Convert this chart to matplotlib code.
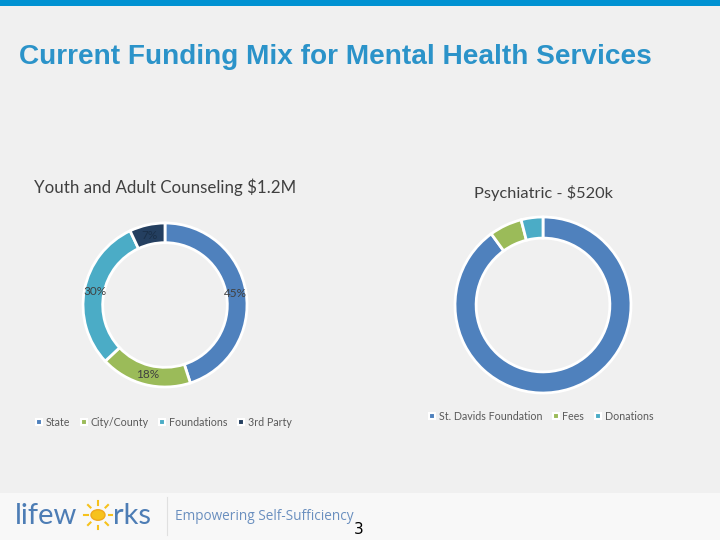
import matplotlib.pyplot as plt
from matplotlib.lines import Line2D
from matplotlib.patches import Rectangle, Circle

# data
left_title = "Youth and Adult Counseling $1.2M"
left_labels = ["State", "City/County", "Foundations", "3rd Party"]
left_values = [45, 18, 30, 7]
left_colors = ["#4f81bd", "#9bbb59", "#4bacc6", "#243f60"]

right_title = "Psychiatric - $520k"
right_labels = ["St. Davids Foundation", "Fees", "Donations"]
right_values = [90, 6, 4]
right_colors = ["#4f81bd", "#9bbb59", "#4bacc6"]

W, H = 720, 540
BG = "#f0f0f0"
TXT = "#404040"


def fx(px):
    return px / W


def fy(py):
    return 1 - py / H


fig = plt.figure(figsize=(7.2, 5.4), dpi=100)
fig.patch.set_facecolor(BG)

# top bar and footer band
fig.add_artist(Rectangle((0, fy(6)), 1, 6 / H, transform=fig.transFigure,
                         facecolor="#0092d2", edgecolor="none"))
fig.add_artist(Rectangle((0, 0), 1, fy(493), transform=fig.transFigure,
                         facecolor="#f8f8f8", edgecolor="none"))

fig.text(fx(19), fy(57), "Current Funding Mix for Mental Health Services",
         fontsize=20.2, fontweight="bold", color="#2b93c9",
         family="Liberation Sans", va="center", ha="left")


def donut(cx, cy, r, values, colors, width, pct=None):
    ax = fig.add_axes([fx(cx - r), fy(cy + r), 2 * r / W, 2 * r / H])
    ax.set_facecolor("none")
    kw = {}
    if pct:
        kw = dict(autopct="%d%%", pctdistance=pct,
                  textprops=dict(color=TXT, fontsize=8.5, family="Lato"))
    res = ax.pie(values, colors=colors, startangle=90, counterclock=False,
                 wedgeprops=dict(width=width, edgecolor="white", linewidth=2),
                 **kw)
    ax.set_xlim(-1, 1)
    ax.set_ylim(-1, 1)
    ax.set_aspect("auto")
    ax.axis("off")
    return res


res = donut(165, 305, 82, left_values, left_colors, 0.24, pct=0.87)
res[2][3].set_color("#1a2f48")
donut(543, 305, 88, right_values, right_colors, 0.24)

fig.text(fx(34), fy(187), left_title, fontsize=12.2, color=TXT,
         family="Lato", va="center", ha="left")
fig.text(fx(543), fy(193), right_title, fontsize=11.8, color=TXT,
         family="Lato", va="center", ha="center")


def legend(labels, colors, x, y):
    handles = [Line2D([], [], marker="s", linestyle="none", markersize=4.5,
                      markerfacecolor=c, markeredgecolor="white",
                      markeredgewidth=1.5) for c in colors]
    fig.legend(handles, labels, loc="center left", bbox_to_anchor=(fx(x), fy(y)),
               ncol=len(labels), frameon=False, handlelength=0.6,
               handletextpad=0.3, columnspacing=1.0, borderaxespad=0,
               borderpad=0, prop=dict(family="Lato", size=7.7),
               labelcolor="#595959")


legend(left_labels, left_colors, 36, 422)
legend(right_labels, right_colors, 429, 416)

# footer logo
logo = "#4d7db5"
fig.text(fx(15), fy(516), "lifew", fontsize=21, color=logo, family="Lato",
         va="center", ha="left")
fig.add_artist(Circle((fx(98), fy(515)), 7 / W, transform=fig.transFigure,
                      facecolor="#f6c21c", edgecolor="#f0a81a"))
for dx, dy in [(0, -14), (0, 14), (-14, 0), (14, 0), (-10, -10), (10, -10),
               (-10, 10), (10, 10)]:
    fig.add_artist(Line2D([fx(98 + dx * 0.75), fx(98 + dx)],
                          [fy(515 + dy * 0.75), fy(515 + dy)],
                          transform=fig.transFigure, color="#f6c21c", lw=1.5))
fig.text(fx(113), fy(516), "rks", fontsize=21, color=logo, family="Lato",
         va="center", ha="left")
fig.add_artist(Line2D([fx(167), fx(167)], [fy(497), fy(535)],
                      transform=fig.transFigure, color="#e0e0e0", lw=0.8))
fig.text(fx(175), fy(517), "Empowering Self-Sufficiency", fontsize=9.8,
         color="#6a8fbf", family="Open Sans", va="center", ha="left")
fig.text(fx(359), fy(529), "3", fontsize=11, color="black",
         family="DejaVu Sans", va="center", ha="center")

fig.savefig("out.png", dpi=100, facecolor=BG)
